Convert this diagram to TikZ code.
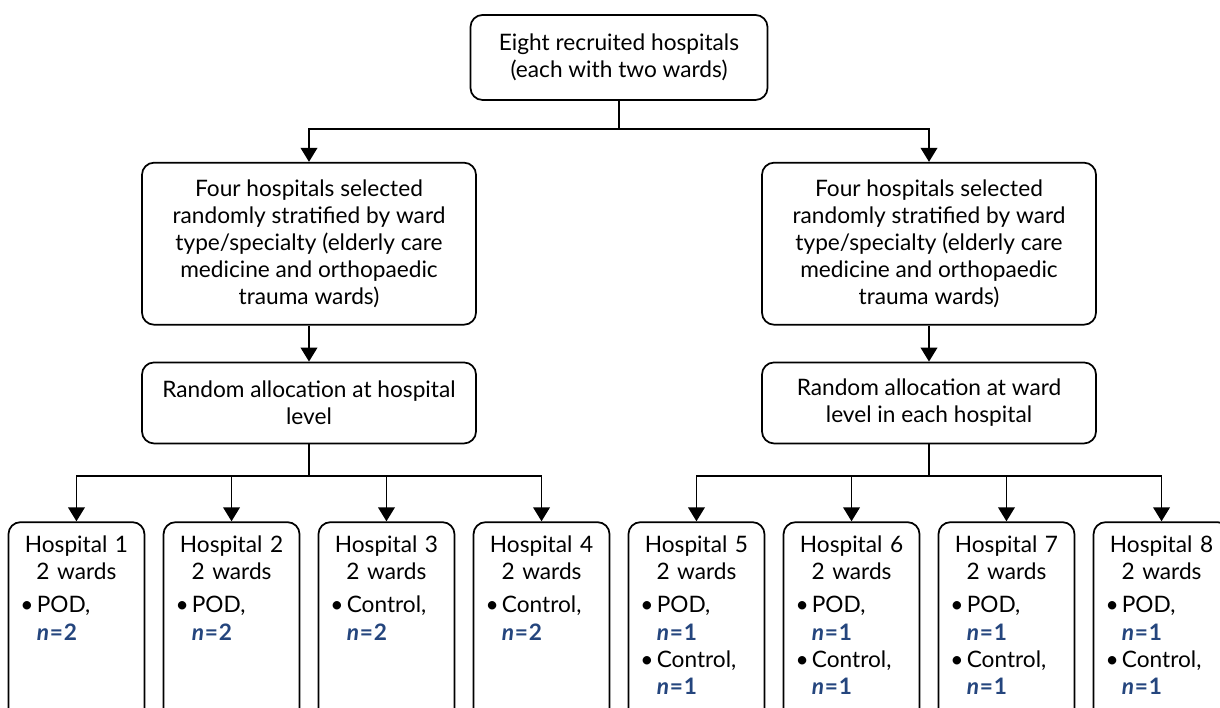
\documentclass[tikz,border=0pt]{standalone}
\usepackage{fontspec}
\setmainfont{Lato}
\usepackage{xcolor}
\usepackage{tikz}
\usetikzlibrary{arrows.meta,positioning}

\definecolor{nblue}{RGB}{36,69,125}
\newcommand{\nval}[1]{{\color{nblue}\bfseries\itshape n\kern0.6pt\upshape=\kern0.6pt#1}}
\newcommand{\arm}[2]{\makebox[0.72em][l]{\textbullet}#1,\\\hspace*{0.72em}\nval{#2}}

\begin{document}
\begin{tikzpicture}[
    node distance=40pt,
    line width=1.3pt,
    every node/.style={font=\fontsize{17}{20.3}\selectfont},
    box/.style={rectangle, draw, rounded corners=9pt, align=center, inner sep=3pt},
    ward/.style={rectangle, draw, rounded corners=9pt, text width=84pt, inner xsep=9pt, inner ysep=0pt, text height=22.5pt, text depth=150pt, align=left},
    arrow/.style={-{Triangle[width=12.5pt,length=10.5pt]}}
]
\useasboundingbox (0,0) rectangle (915pt,-530.25pt);

% Top
\node[box, minimum width=222.75pt, minimum height=63.75pt] (recruit) at (464.25pt,-43.1pt) {Eight recruited hospitals\\(each with two wards)};
\coordinate[below=21pt of recruit] (recsplit);

% Selection
\node[box, below=45.75pt of recruit, xshift=-232.5pt, minimum width=250.5pt, minimum height=121.5pt] (selA) {Four hospitals selected\\randomly stratified by ward\\type/specialty (elderly care\\medicine and orthopaedic\\trauma wards)};
\node[box, below=45.75pt of recruit, xshift=232.5pt, minimum width=250.5pt, minimum height=121.5pt] (selB) {Four hospitals selected\\randomly stratified by ward\\type/specialty (elderly care\\medicine and orthopaedic\\trauma wards)};

% Allocation
\node[box, below=27pt of selA, minimum width=250.5pt, minimum height=60.75pt] (allocA) {Random allocation at hospital\\level};
\node[box, below=27pt of selB, minimum width=250.5pt, minimum height=60.75pt] (allocB) {Random allocation at ward\\level in each hospital};
\coordinate[below=24pt of allocA] (splitA);
\coordinate[below=24pt of allocB] (splitB);

% Hospitals
\node[ward, below=57.75pt of allocA, xshift=-174.4pt] (hosp1) {\centering Hospital 1\\2 wards\par\vspace{5pt}\raggedright\arm{POD}{2}};
\node[ward, below=57.75pt of allocA, xshift=-58.1pt] (hosp2) {\centering Hospital 2\\2 wards\par\vspace{5pt}\raggedright\arm{POD}{2}};
\node[ward, below=57.75pt of allocA, xshift=58.1pt] (hosp3) {\centering Hospital 3\\2 wards\par\vspace{5pt}\raggedright\arm{Control}{2}};
\node[ward, below=57.75pt of allocA, xshift=174.4pt] (hosp4) {\centering Hospital 4\\2 wards\par\vspace{5pt}\raggedright\arm{Control}{2}};
\node[ward, below=57.75pt of allocB, xshift=-174.4pt] (hosp5) {\centering Hospital 5\\2 wards\par\vspace{5pt}\raggedright\arm{POD}{1}\\\arm{Control}{1}};
\node[ward, below=57.75pt of allocB, xshift=-58.1pt] (hosp6) {\centering Hospital 6\\2 wards\par\vspace{5pt}\raggedright\arm{POD}{1}\\\arm{Control}{1}};
\node[ward, below=57.75pt of allocB, xshift=58.1pt] (hosp7) {\centering Hospital 7\\2 wards\par\vspace{5pt}\raggedright\arm{POD}{1}\\\arm{Control}{1}};
\node[ward, below=57.75pt of allocB, xshift=174.4pt] (hosp8) {\centering Hospital 8\\2 wards\par\vspace{5pt}\raggedright\arm{POD}{1}\\\arm{Control}{1}};

% Connectors
\draw (recruit.south) -- (recsplit);
\draw[arrow] (recsplit) -| (selA.north);
\draw[arrow] (recsplit) -| (selB.north);
\draw[arrow] (selA.south) -- (allocA.north);
\draw[arrow] (selB.south) -- (allocB.north);
\draw (allocA.south) -- (splitA);
\draw (allocB.south) -- (splitB);
\foreach \h in {1,2,3,4}
    \draw[arrow] (splitA) -| (hosp\h.north);
\foreach \h in {5,6,7,8}
    \draw[arrow] (splitB) -| (hosp\h.north);

\end{tikzpicture}
\end{document}
